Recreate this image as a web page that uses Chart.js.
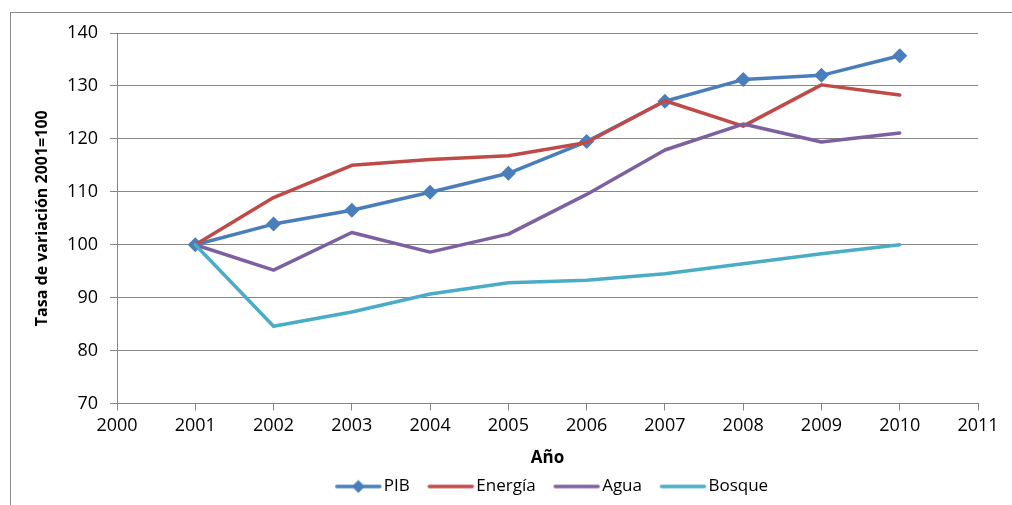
<!DOCTYPE html>
<html>
<head>
<meta charset="utf-8">
<script src="https://cdn.jsdelivr.net/npm/chart.js@4/dist/chart.umd.min.js"></script>
<style>
    html, body { margin: 0; padding: 0; background: #fff; }
    #wrap { position: relative; width: 1012px; height: 505px; overflow: hidden; }
    #marco { position: absolute; left: 10px; top: 12px; width: 1100px; height: 600px; border-top: 1px solid #8a8a8a; border-left: 1px solid #8a8a8a; }
    canvas { position: absolute; left: 0; top: 0; }
</style>
</head>
<body>
<div id="wrap">
    <div id="marco"></div>
    <canvas id="grafico" width="1012" height="505"></canvas>
</div>
<script>
const anios = [2001, 2002, 2003, 2004, 2005, 2006, 2007, 2008, 2009, 2010];
const pib     = [100, 103.9, 106.5, 109.9, 113.5, 119.5, 127.1, 131.2, 132.0, 135.7];
const energia = [100, 108.9, 115.0, 116.1, 116.8, 119.3, 127.2, 122.4, 130.2, 128.3];
const agua    = [100, 95.2, 102.3, 98.6, 102.0, 109.5, 117.9, 122.8, 119.4, 121.1];
const bosque  = [100, 84.6, 87.3, 90.7, 92.8, 93.3, 94.5, 96.4, 98.3, 100];
const ticksY = { min: 70, max: 140, paso: 10 };
const ticksX = { min: 2000, max: 2011, paso: 1 };

const colores = ['#4a7ebb', '#be4b48', '#7d60a0', '#4bacc6'];
const fuente = "'Open Sans', 'DejaVu Sans', sans-serif";

// ancho de la caja de leyenda y desplazamiento de la linea dentro de ella
const anchoCaja = 48.5;
const corrimiento = 10;

function puntos(valores) {
    return anios.map((a, i) => ({ x: a, y: valores[i] }));
}

// icono de la leyenda: linea (y rombo para el PIB)
function iconoLeyenda(color, conRombo) {
    const c = document.createElement('canvas');
    c.width = 120; c.height = 16;
    const g = c.getContext('2d');
    const ini = 60 - anchoCaja / 2 + corrimiento;
    g.strokeStyle = color;
    g.lineWidth = 3.5;
    g.lineCap = 'round';
    g.beginPath();
    g.moveTo(ini, 8);
    g.lineTo(ini + 43, 8);
    g.stroke();
    if (conRombo) {
        const m = ini + 21.5;
        g.fillStyle = color;
        g.beginPath();
        g.moveTo(m, 1.5); g.lineTo(m + 6.5, 8); g.lineTo(m, 14.5); g.lineTo(m - 6.5, 8);
        g.closePath();
        g.fill();
    }
    return c;
}

const series = [
    { label: 'PIB', data: puntos(pib), rombo: true, orden: 4 },
    { label: 'Energía', data: puntos(energia), rombo: false, orden: 3 },
    { label: 'Agua', data: puntos(agua), rombo: false, orden: 2 },
    { label: 'Bosque', data: puntos(bosque), rombo: false, orden: 1 }
];

const iconos = series.map((s, i) => iconoLeyenda(colores[i], s.rombo));

const ctx = document.getElementById('grafico').getContext('2d');
const grafico = new Chart(ctx, {
    type: 'line',
    data: {
        datasets: series.map((s, i) => ({
            label: s.label,
            data: s.data,
            order: s.orden,
            borderColor: colores[i],
            backgroundColor: colores[i],
            borderWidth: 3.5,
            borderJoinStyle: 'round',
            borderCapStyle: 'round',
            pointStyle: 'rectRot',
            pointRadius: s.rombo ? 7.5 : 0,
            pointBorderWidth: 0,
            pointHoverRadius: s.rombo ? 7.5 : 0,
            tension: 0
        }))
    },
    options: {
        responsive: false,
        animation: false,
        layout: { padding: { top: 33, right: 34, left: 0, bottom: 0 } },
        plugins: {
            tooltip: { enabled: false },
            legend: {
                position: 'bottom',
                fullSize: false,
                labels: {
                    usePointStyle: true,
                    pointStyleWidth: anchoCaja,
                    padding: 9.5,
                    color: '#000',
                    font: { family: fuente, size: 17 },
                    generateLabels: chart => chart.data.datasets.map((ds, i) => ({
                        text: ds.label,
                        pointStyle: iconos[i],
                        fillStyle: colores[i],
                        strokeStyle: colores[i],
                        lineWidth: 0,
                        hidden: false,
                        datasetIndex: i,
                        fontColor: '#000'
                    }))
                }
            }
        },
        scales: {
            x: {
                type: 'linear',
                min: ticksX.min, max: ticksX.max,
                afterFit: s => { s.height = 65; },
                ticks: {
                    stepSize: ticksX.paso,
                    padding: 5,
                    color: '#000',
                    font: { family: fuente, size: 18 },
                    callback: v => String(v)
                },
                grid: { drawOnChartArea: false, drawTicks: true, tickLength: 7, color: '#868686' },
                border: { color: '#868686', width: 1 },
                title: {
                    display: true, text: 'Año', color: '#000',
                    font: { family: fuente, size: 17, weight: 'bold' },
                    padding: { top: 0, bottom: 0 }
                }
            },
            y: {
                min: ticksY.min, max: ticksY.max,
                afterFit: s => { s.width = 117; },
                ticks: {
                    stepSize: ticksY.paso,
                    padding: 12,
                    color: '#000',
                    font: { family: fuente, size: 18 }
                },
                grid: { drawTicks: true, tickLength: 7, color: '#868686', lineWidth: 1 },
                border: { color: '#868686', width: 1 },
                title: {
                    display: true, text: 'Tasa de variación 2001=100', color: '#000',
                    font: { family: fuente, size: 16, weight: 'bold' },
                    padding: { top: 33, bottom: 0 }
                }
            }
        }
    }
});
</script>
</body>
</html>
